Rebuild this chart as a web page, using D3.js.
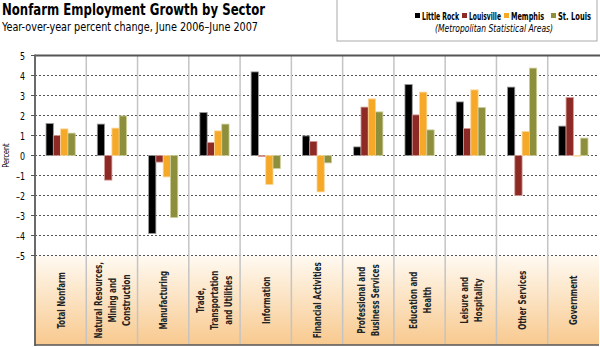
<!DOCTYPE html>
<html>
<head>
<meta charset="utf-8">
<script src="https://cdn.jsdelivr.net/npm/d3@7"></script>
<style>
  body { margin: 0; background: #fff; }
  svg { display: block; font-family: "DejaVu Sans Condensed", "Liberation Sans", sans-serif; }
</style>
</head>
<body>
<script>
// data
var categories = [
  ["Total Nonfarm"],
  ["Natural Resources,", "Mining and", "Construction"],
  ["Manufacturing"],
  ["Trade,", "Transportation", "and Utilities"],
  ["Information"],
  ["Financial Activities"],
  ["Professional and", "Business Services"],
  ["Education and", "Health"],
  ["Leisure and", "Hospitality"],
  ["Other Services"],
  ["Government"]
];
var seriesNames = ["Little Rock", "Louisville", "Memphis", "St. Louis"];
var littleRock = [1.6, 1.57, -3.9, 2.15, 4.18, 0.98, 0.43, 3.55, 2.68, 3.42, 1.47];
var louisville = [1.0, -1.23, -0.33, 0.65, -0.05, 0.7, 2.42, 2.03, 1.35, -2.0, 2.9];
var memphis    = [1.33, 1.37, -1.07, 1.23, -1.45, -1.82, 2.83, 3.17, 3.28, 1.2, 0.0];
var stLouis    = [1.12, 1.98, -3.1, 1.57, -0.65, -0.37, 2.18, 1.28, 2.4, 4.37, 0.87];
var yTicks = [5, 4, 3, 2, 1, 0, -1, -2, -3, -4, -5];

var colors = ["#000000", "#8e2a25", "#f6a928", "#8e8f3c"];
var halos  = ["#9a9a9a", "#d49a94", "#fbd79a", "#cccf9a"];

var width = 600, height = 347;
var plotL = 35, plotR = 599, plotT = 55.5, plotB = 255.5, bandB = 345;

var svg = d3.select("body").append("svg")
            .attr("width", width)
            .attr("height", height);

var defs = svg.append("defs");
var grad = defs.append("linearGradient")
               .attr("id", "band")
               .attr("x1", 0).attr("y1", 0).attr("x2", 0).attr("y2", 1);
grad.append("stop").attr("offset", "0%").attr("stop-color", "#fffaf2");
grad.append("stop").attr("offset", "100%").attr("stop-color", "#f8c98e");

var x = d3.scaleBand()
          .domain(d3.range(categories.length))
          .range([plotL, plotR]);
var y = d3.scaleLinear().domain([-5, 5]).range([plotB, plotT]);
var barW = 7.3;

// category band at bottom
svg.append("rect")
   .attr("x", plotL).attr("y", plotB)
   .attr("width", plotR - plotL).attr("height", bandB - plotB)
   .attr("fill", "url(#band)");

// dotted grid lines
svg.append("g")
   .selectAll("line")
   .data(yTicks.filter(function(d) { return d < 5; }))
   .enter()
     .append("line")
     .attr("x1", plotL).attr("x2", plotR)
     .attr("y1", function(d) { return y(d); })
     .attr("y2", function(d) { return y(d); })
     .attr("stroke", "#555")
     .attr("stroke-width", 1)
     .attr("stroke-dasharray", "2,2");

// category separators
svg.append("g")
   .selectAll("line")
   .data(d3.range(1, categories.length))
   .enter()
     .append("line")
     .attr("x1", function(i) { return x(i); })
     .attr("x2", function(i) { return x(i); })
     .attr("y1", plotT).attr("y2", bandB)
     .attr("stroke", "#c4c4c4")
     .attr("stroke-width", 1.5);

// bars
var series = [littleRock, louisville, memphis, stLouis];
var groupW = barW * series.length;
series.forEach(function(vals, s) {
  svg.append("g")
     .selectAll("rect")
     .data(vals)
     .enter()
       .append("rect")
       .attr("x", function(d, i) { return x(i) + x.bandwidth() / 2 - groupW / 2 + s * barW; })
       .attr("y", function(d) { return y(Math.max(0, d)); })
       .attr("width", barW)
       .attr("height", function(d) { return Math.max(Math.abs(y(d) - y(0)), 0.6); })
       .attr("fill", colors[s])
       .attr("stroke", halos[s])
       .attr("stroke-width", 0.8);
});

// axis lines
svg.append("line")
   .attr("x1", plotL).attr("x2", 600)
   .attr("y1", plotT).attr("y2", plotT)
   .attr("stroke", "#555").attr("stroke-width", 2);
svg.append("line")
   .attr("x1", plotL).attr("x2", plotL)
   .attr("y1", plotT - 1).attr("y2", bandB + 1)
   .attr("stroke", "#6a6a6a").attr("stroke-width", 2);
svg.append("line")
   .attr("x1", plotL).attr("x2", plotR)
   .attr("y1", bandB).attr("y2", bandB)
   .attr("stroke", "#555").attr("stroke-width", 1.5);

// y ticks + labels
var yAxis = svg.append("g");
yAxis.selectAll("line")
   .data(yTicks)
   .enter()
     .append("line")
     .attr("x1", plotL - 4).attr("x2", plotL)
     .attr("y1", function(d) { return y(d); })
     .attr("y2", function(d) { return y(d); })
     .attr("stroke", "#555");
yAxis.selectAll("text")
   .data(yTicks)
   .enter()
     .append("text")
     .attr("transform", function(d) { return "translate(" + (plotL - 10) + "," + (y(d) + 4) + ") scale(0.8,1)"; })
     .attr("text-anchor", "end")
     .attr("font-size", 11)
     .text(function(d) { return d < 0 ? "\u2013" + Math.abs(d) : d; });

svg.append("text")
   .attr("transform", "translate(9," + y(0) + ") rotate(-90) scale(0.8,1)")
   .attr("text-anchor", "middle")
   .attr("font-size", 9)
   .text("Percent");

// category labels
var lineGap = 14;
var catG = svg.append("g");
categories.forEach(function(lines, i) {
  var cx = x(i) + x.bandwidth() / 2;
  lines.forEach(function(t, j) {
    var lx = cx + (j - (lines.length - 1) / 2) * lineGap + 4;
    catG.append("text")
        .attr("transform", "translate(" + lx + "," + ((plotB + bandB) / 2) + ") rotate(-90) scale(0.72,1)")
        .attr("text-anchor", "middle")
        .attr("font-size", 11)
        .attr("font-weight", "bold")
        .attr("fill", "#222")
        .text(t);
  });
});

// title
svg.append("text")
   .attr("x", 2).attr("y", 15)
   .attr("font-size", 16)
   .attr("font-weight", "bold")
   .attr("textLength", 263)
   .attr("lengthAdjust", "spacingAndGlyphs")
   .text("Nonfarm Employment Growth by Sector");
svg.append("text")
   .attr("x", 2).attr("y", 31)
   .attr("font-size", 12.5)
   .attr("textLength", 256)
   .attr("lengthAdjust", "spacingAndGlyphs")
   .text("Year-over-year percent change, June 2006\u2013June 2007");

// legend
svg.append("rect")
   .attr("x", 337).attr("y", -1)
   .attr("width", 260).attr("height", 42)
   .attr("fill", "#fff")
   .attr("stroke", "#aaa");
var legendX = [415, 462, 504, 551];
var legendW = [37, 32, 33, 33];
var leg = svg.append("g")
             .selectAll("g")
             .data(seriesNames)
             .enter()
               .append("g")
               .attr("transform", function(d, i) { return "translate(" + legendX[i] + ",0)"; });
leg.append("rect")
   .attr("x", 0).attr("y", 13)
   .attr("width", 5).attr("height", 5)
   .attr("fill", function(d, i) { return colors[i]; });
leg.append("text")
   .attr("x", 7).attr("y", 20)
   .attr("font-size", 10.5)
   .attr("font-weight", "bold")
   .attr("textLength", function(d, i) { return legendW[i]; })
   .attr("lengthAdjust", "spacingAndGlyphs")
   .text(function(d) { return d; });
svg.append("text")
   .attr("x", 435).attr("y", 32)
   .attr("font-size", 10.5)
   .attr("font-style", "italic")
   .attr("textLength", 118)
   .attr("lengthAdjust", "spacingAndGlyphs")
   .text("(Metropolitan Statistical Areas)");
</script>
</body>
</html>
